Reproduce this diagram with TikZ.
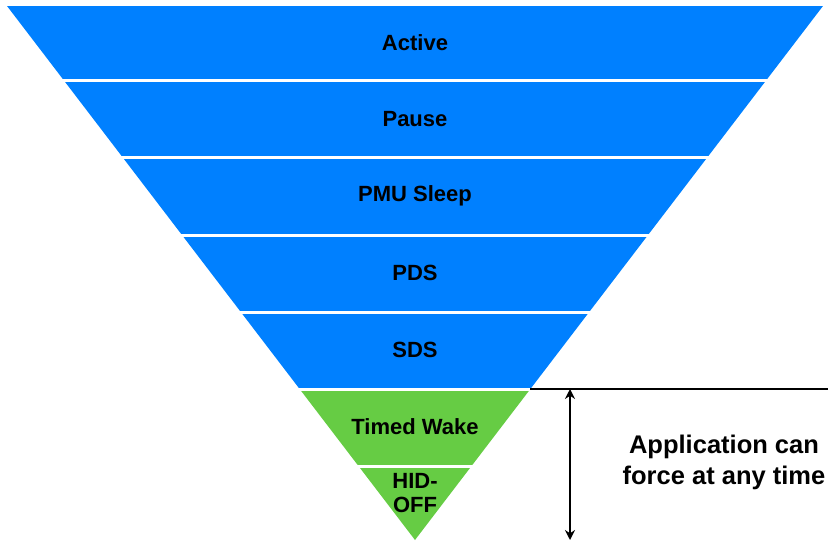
\documentclass[tikz,border=0pt]{standalone}
\usepackage{xcolor}
\usepackage{tikz}
\usepackage{fontspec}
\setmainfont{Liberation Sans}
\usetikzlibrary{arrows.meta, positioning, calc}

\definecolor{modeblue}{RGB}{0,128,255}
\definecolor{modegreen}{RGB}{102,204,68}

\begin{document}
\begin{tikzpicture}[x=1pt, y=-1pt,
		gap/.style={draw=white, line width=3pt},
		lbl/.style={font=\fontsize{22}{24}\selectfont\bfseries, align=center, inner sep=0pt},
		side/.style={font=\fontsize{25.5}{31}\selectfont\bfseries, align=center, inner sep=0pt}]
			
			\useasboundingbox (0,0) rectangle (828,541);
			
			% Power mode bands - Blue and Green
			\foreach \ya/\yb/\col/\nm/\ly/\txt in {
				6/80/modeblue/active/43/Active,
				80/157/modeblue/pause/119/Pause,
				157/235/modeblue/pmu/196/PMU Sleep,
				235/312/modeblue/pds/273/PDS,
				312/389/modeblue/sds/350/SDS,
				389/466/modegreen/timed/427/Timed Wake,
				466/540/modegreen/hid/493/HID-\\OFF} {
				\fill[\col] ({415-0.764*(540-\ya)}, \ya) -- ({415+0.764*(540-\ya)}, \ya)
					-- ({415+0.764*(540-\yb)}, \yb) -- ({415-0.764*(540-\yb)}, \yb) -- cycle;
				\node[lbl] (\nm) at (415, \ly) {\txt};
			}
			% white gaps between bands
			\foreach \yg in {80, 157, 235, 312, 389, 466} {
				\draw[gap] ({413-0.764*(540-\yg)}, \yg) -- ({417+0.764*(540-\yg)}, \yg);
			}
			
			% Force range
			\coordinate (edge) at (530, 389);
			\coordinate (rim) at (828, 389);
			\coordinate (armtop) at (570, 389);
			\coordinate (armbot) at (570, 540);
			\draw[line width=2pt] (edge) -- (rim);
			\draw[{Stealth[length=10pt,width=10pt]}-{Stealth[length=10pt,width=10pt]}, line width=1.8pt] (armtop) -- (armbot);
			\node[side] (force) at (724, 462) {Application can\\force at any time};
			
		\end{tikzpicture}
\end{document}
